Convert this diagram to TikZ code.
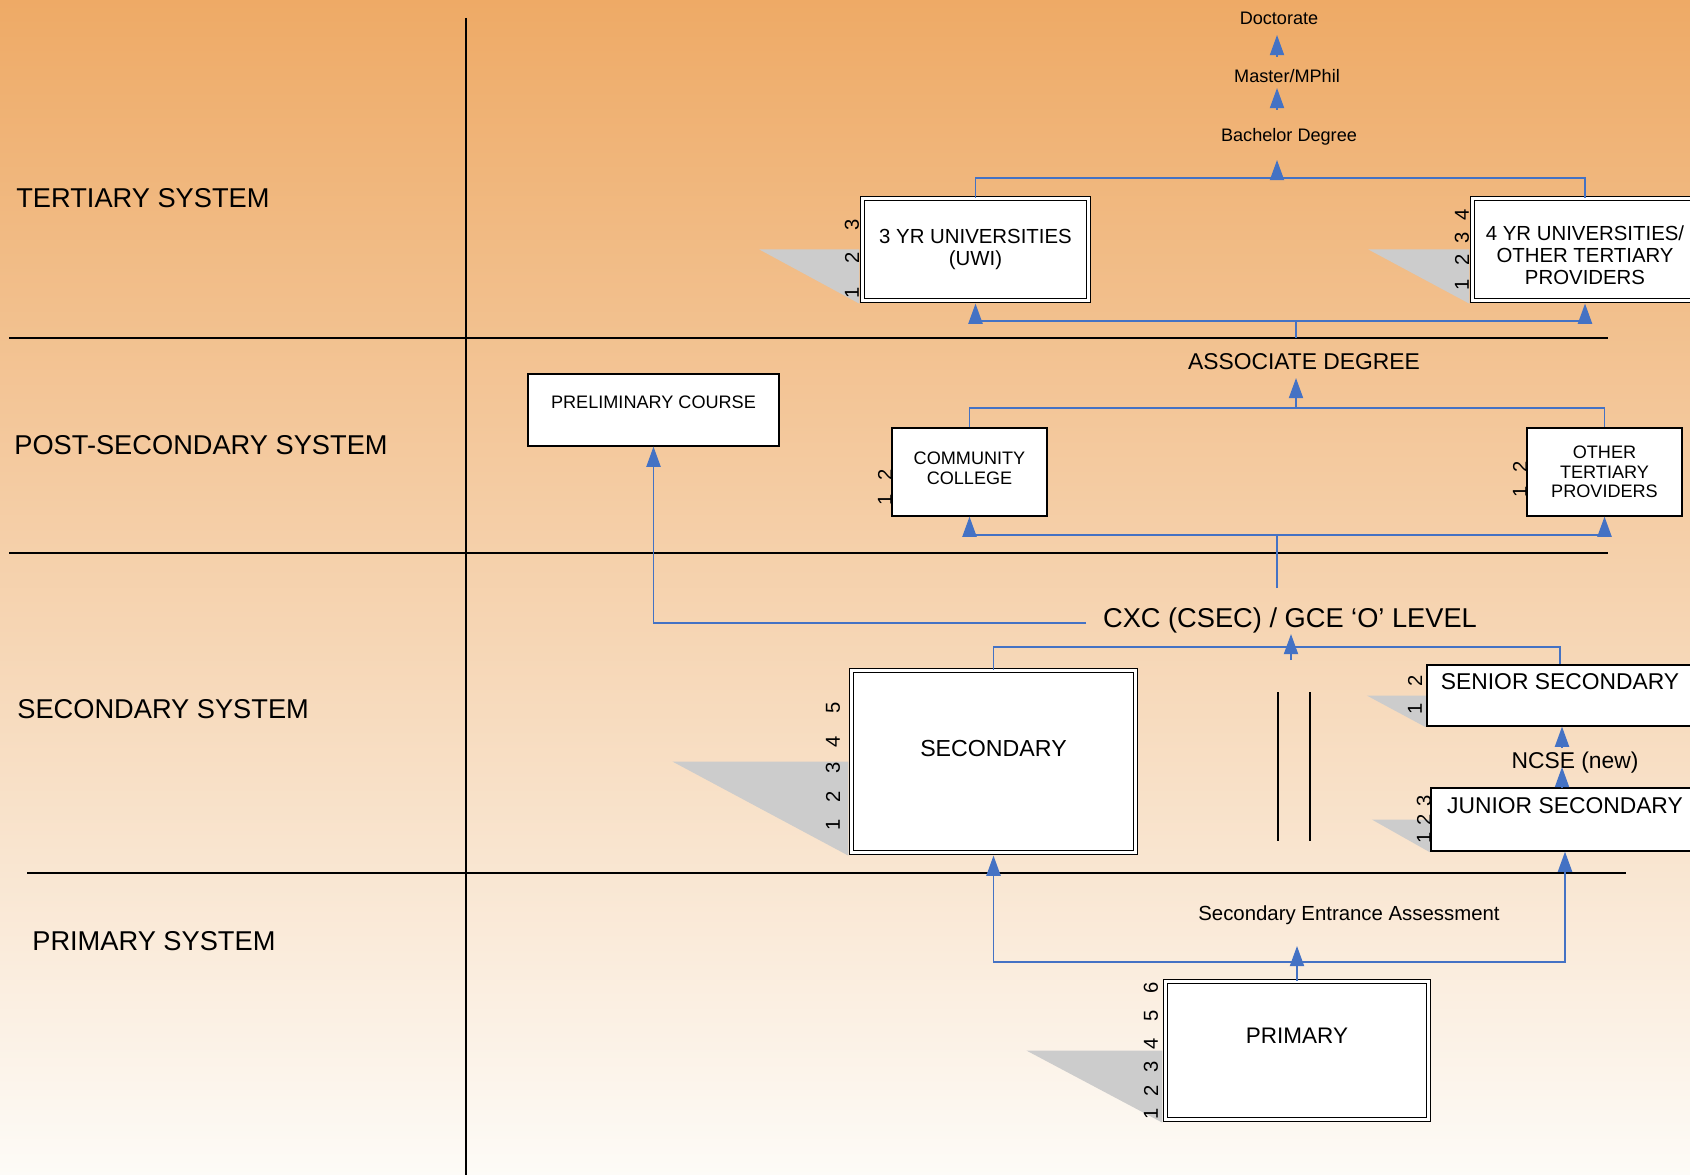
\documentclass[tikz,border=0pt]{standalone}
\usepackage{fontspec}
\setmainfont{Liberation Sans}
\usetikzlibrary{arrows.meta}

\definecolor{linkblue}{RGB}{68,114,196}
\definecolor{bandtop}{RGB}{238,170,102}
\definecolor{bandbot}{RGB}{253,251,247}
\definecolor{wedgegray}{RGB}{204,204,204}
\newcommand{\fsz}[2]{\fontsize{#1}{#2}\selectfont}

\begin{document}
\begin{tikzpicture}[x=0.02cm,y=-0.02cm,
    sysline/.style={line width=1.3pt},
    syslabel/.style={anchor=west,inner sep=0pt,font=\fsz{15.5}{18}},
    box/.style={draw,line width=0.7pt,fill=white,align=center,inner sep=2pt},
    dbox/.style={draw,line width=0.7pt,double,double distance=1.5pt,fill=white,align=center,inner sep=2pt},
    num/.style={rotate=90,inner sep=0pt,font=\fsz{11.5}{13}},
    tri/.style={fill=wedgegray},
    lbl/.style={inner sep=0pt,align=center},
    conn/.style={draw=linkblue,line width=1.1pt},
    arr/.style={conn,-{Triangle[width=8pt,length=11.5pt]}}]
      \useasboundingbox (0,0) rectangle (1690,1175);
      \clip (0,0) rectangle (1690,1175);
      \shade[top color=bandtop,bottom color=bandbot] (0,0) rectangle (1690,1175);
      % system bands
      \draw[sysline] (9,338) -- (1608,338);
      \draw[sysline] (9,553) -- (1608,553);
      \draw[sysline] (27,873) -- (1626,873);
      \draw[sysline] (466,18) -- (466,1175);
      \node[syslabel] (ter) at (16,198) {TERTIARY SYSTEM};
      \node[syslabel] (post) at (14,445) {POST-SECONDARY SYSTEM};
      \node[syslabel] (secsys) at (17,709) {SECONDARY SYSTEM};
      \node[syslabel] (prisys) at (32,941) {PRIMARY SYSTEM};
      % tertiary
      \node[lbl,font=\fsz{10.3}{12}] (doc) at (1279,18.5) {Doctorate};
      \node[lbl,font=\fsz{10.3}{12}] (mast) at (1287,76.5) {Master/MPhil};
      \node[lbl,font=\fsz{10.3}{12}] (bach) at (1289,137) {Bachelor Degree};
      \node[dbox,minimum width=4.52cm,minimum height=2.04cm,font=\fsz{11.6}{13}] (uwi) at (975.5,249.5) {3 YR UNIVERSITIES\\(UWI)};
      \node[dbox,minimum width=4.5cm,minimum height=2.04cm,font=\fsz{11.6}{12.6}] (four) at (1585,249.5) {\rule{0pt}{15.3pt}4 YR UNIVERSITIES/\\OTHER TERTIARY\\PROVIDERS};
      % post-secondary
      \node[lbl,font=\fsz{13}{15}] (assoc) at (1304,362) {ASSOCIATE DEGREE};
      \node[box,minimum width=5.02cm,minimum height=1.44cm,text depth=0.32cm,font=\fsz{10.3}{12}] (prelim) at (653.5,410) {PRELIMINARY COURSE};
      \node[box,minimum width=3.1cm,minimum height=1.76cm,font=\fsz{10.3}{11.6}] (cc) at (969.5,472) {COMMUNITY\\COLLEGE\rule[-4pt]{0pt}{0pt}};
      \node[box,minimum width=3.1cm,minimum height=1.76cm,font=\fsz{10.3}{11}] (otp) at (1604.5,472) {OTHER\\TERTIARY\\PROVIDERS};
      % secondary
      \node[lbl,font=\fsz{15.5}{18}] (cxc) at (1290,620) {CXC (CSEC) / GCE ‘O’ LEVEL};
      \node[dbox,minimum width=5.68cm,minimum height=3.64cm,text depth=0.54cm,font=\fsz{13.2}{15}] (sec) at (993.5,761.5) {SECONDARY};
      \node[box,minimum width=5.32cm,minimum height=1.22cm,text depth=0.54cm,font=\fsz{13}{15}] (senior) at (1560,695.5) {SENIOR SECONDARY};
      \node[box,minimum width=5.36cm,minimum height=1.26cm,text depth=0.54cm,font=\fsz{13}{15}] (junior) at (1565,819.5) {JUNIOR SECONDARY};
      \node[lbl,font=\fsz{13}{15}] (ncse) at (1575,763) {NCSE (new)};
      \draw[line width=0.6pt] (1278,692) -- (1278,841);
      \draw[line width=0.6pt] (1310,692) -- (1310,841);
      % primary
      \node[lbl,font=\fsz{11.6}{13}] (sea) at (1349,915) {Secondary Entrance Assessment};
      \node[dbox,minimum width=5.26cm,minimum height=2.76cm,text depth=0.58cm,font=\fsz{12.8}{15}] (pri) at (1297,1050.5) {PRIMARY};
      % year wedges
      \foreach \b/\l in {uwi/100,four/101,sec/176,pri/136}
        \fill[tri] ([xshift=-1.45pt]\b.west) -- ++(-\l,0) -- ([shift={(-1.45pt,-1.45pt)}]\b.south west) -- cycle;
      \foreach \b/\l in {senior/59,junior/58}
        \fill[tri] ([xshift=-0.35pt]\b.west) -- ++(-\l,0) -- ([shift={(-0.35pt,-0.35pt)}]\b.south west) -- cycle;
      % year numbers
      \foreach \n/\y in {1/293,2/258,3/225} \node[num] (uwi-\n) at (852,\y) {\n};
      \foreach \n/\y in {1/285,2/260,3/238,4/215} \node[num] (four-\n) at (1462,\y) {\n};
      \foreach \n/\y in {1/500,2/475} \node[num] (cc-\n) at (885,\y) {\n};
      \foreach \n/\y in {1/492,2/467} \node[num] (otp-\n) at (1520,\y) {\n};
      \foreach \n/\y in {1/825,2/797,3/768,4/742,5/708} \node[num] (sec-\n) at (833,\y) {\n};
      \foreach \n/\y in {1/709,2/681} \node[num] (senior-\n) at (1415,\y) {\n};
      \foreach \n/\y in {1/838,2/820,3/801} \node[num] (junior-\n) at (1424,\y) {\n};
      \foreach \n/\y in {1/1114,2/1091,3/1067,4/1044,5/1016,6/988} \node[num] (pri-\n) at (1151,\y) {\n};
      % junctions
      \coordinate (doctip) at (1277,35);
      \coordinate (docbase) at (1277,57);
      \coordinate (masttip) at (1277,88);
      \coordinate (mastbase) at (1277,110);
      \coordinate (bachtip) at (1277,160);
      \coordinate (tjoin) at (1277,178);
      \coordinate (ajoin) at (1296,321);
      \coordinate (assoctop) at (1296,338);
      \coordinate (assocdown) at (1296,378);
      \coordinate (cjoin) at (1296,408);
      \coordinate (xjoin) at (1277,535);
      \coordinate (cxcup) at (1277,588);
      \coordinate (cxcleft) at (1086,623);
      \coordinate (cxcdown) at (1291,634);
      \coordinate (sjoin) at (1291,647);
      \coordinate (sstem) at (1291,660);
      \coordinate (nhi) at (1562,748);
      \coordinate (nlo) at (1562,767);
      \coordinate (seatip) at (1297,946);
      \coordinate (pjoin) at (1297,962);
      % connectors
      \draw[arr] (docbase) -- (doctip);
      \draw[arr] (mastbase) -- (masttip);
      \draw[arr] (tjoin) -- (bachtip);
      \draw[conn] (uwi.north) |- (tjoin) -| (four.north);
      \draw[conn] (assoctop) -- (ajoin);
      \draw[arr,shorten >=1.4pt] (ajoin) -| (uwi.south);
      \draw[arr,shorten >=1.4pt] (ajoin) -| (four.south);
      \draw[arr] (cjoin) -- (assocdown);
      \draw[conn] (cc.north) |- (cjoin) -| (otp.north);
      \draw[conn] (cxcup) -- (xjoin);
      \draw[arr] (xjoin) -| (cc.south);
      \draw[arr] (xjoin) -| (otp.south);
      \draw[arr] (cxcleft) -| (prelim.south);
      \draw[arr] (sstem) -- (cxcdown);
      \draw[conn] (sec.north) |- (sjoin) -| (senior.north);
      \draw[arr] (nlo |- junior.north) -- (nlo);
      \draw[arr] (nhi) -- (nhi |- senior.south);
      \draw[arr] (pri.north) -- (seatip);
      \draw[arr,shorten >=1.4pt] (pjoin) -| (sec.south);
      \draw[arr] (pjoin) -| (junior.south);
    \end{tikzpicture}
\end{document}
